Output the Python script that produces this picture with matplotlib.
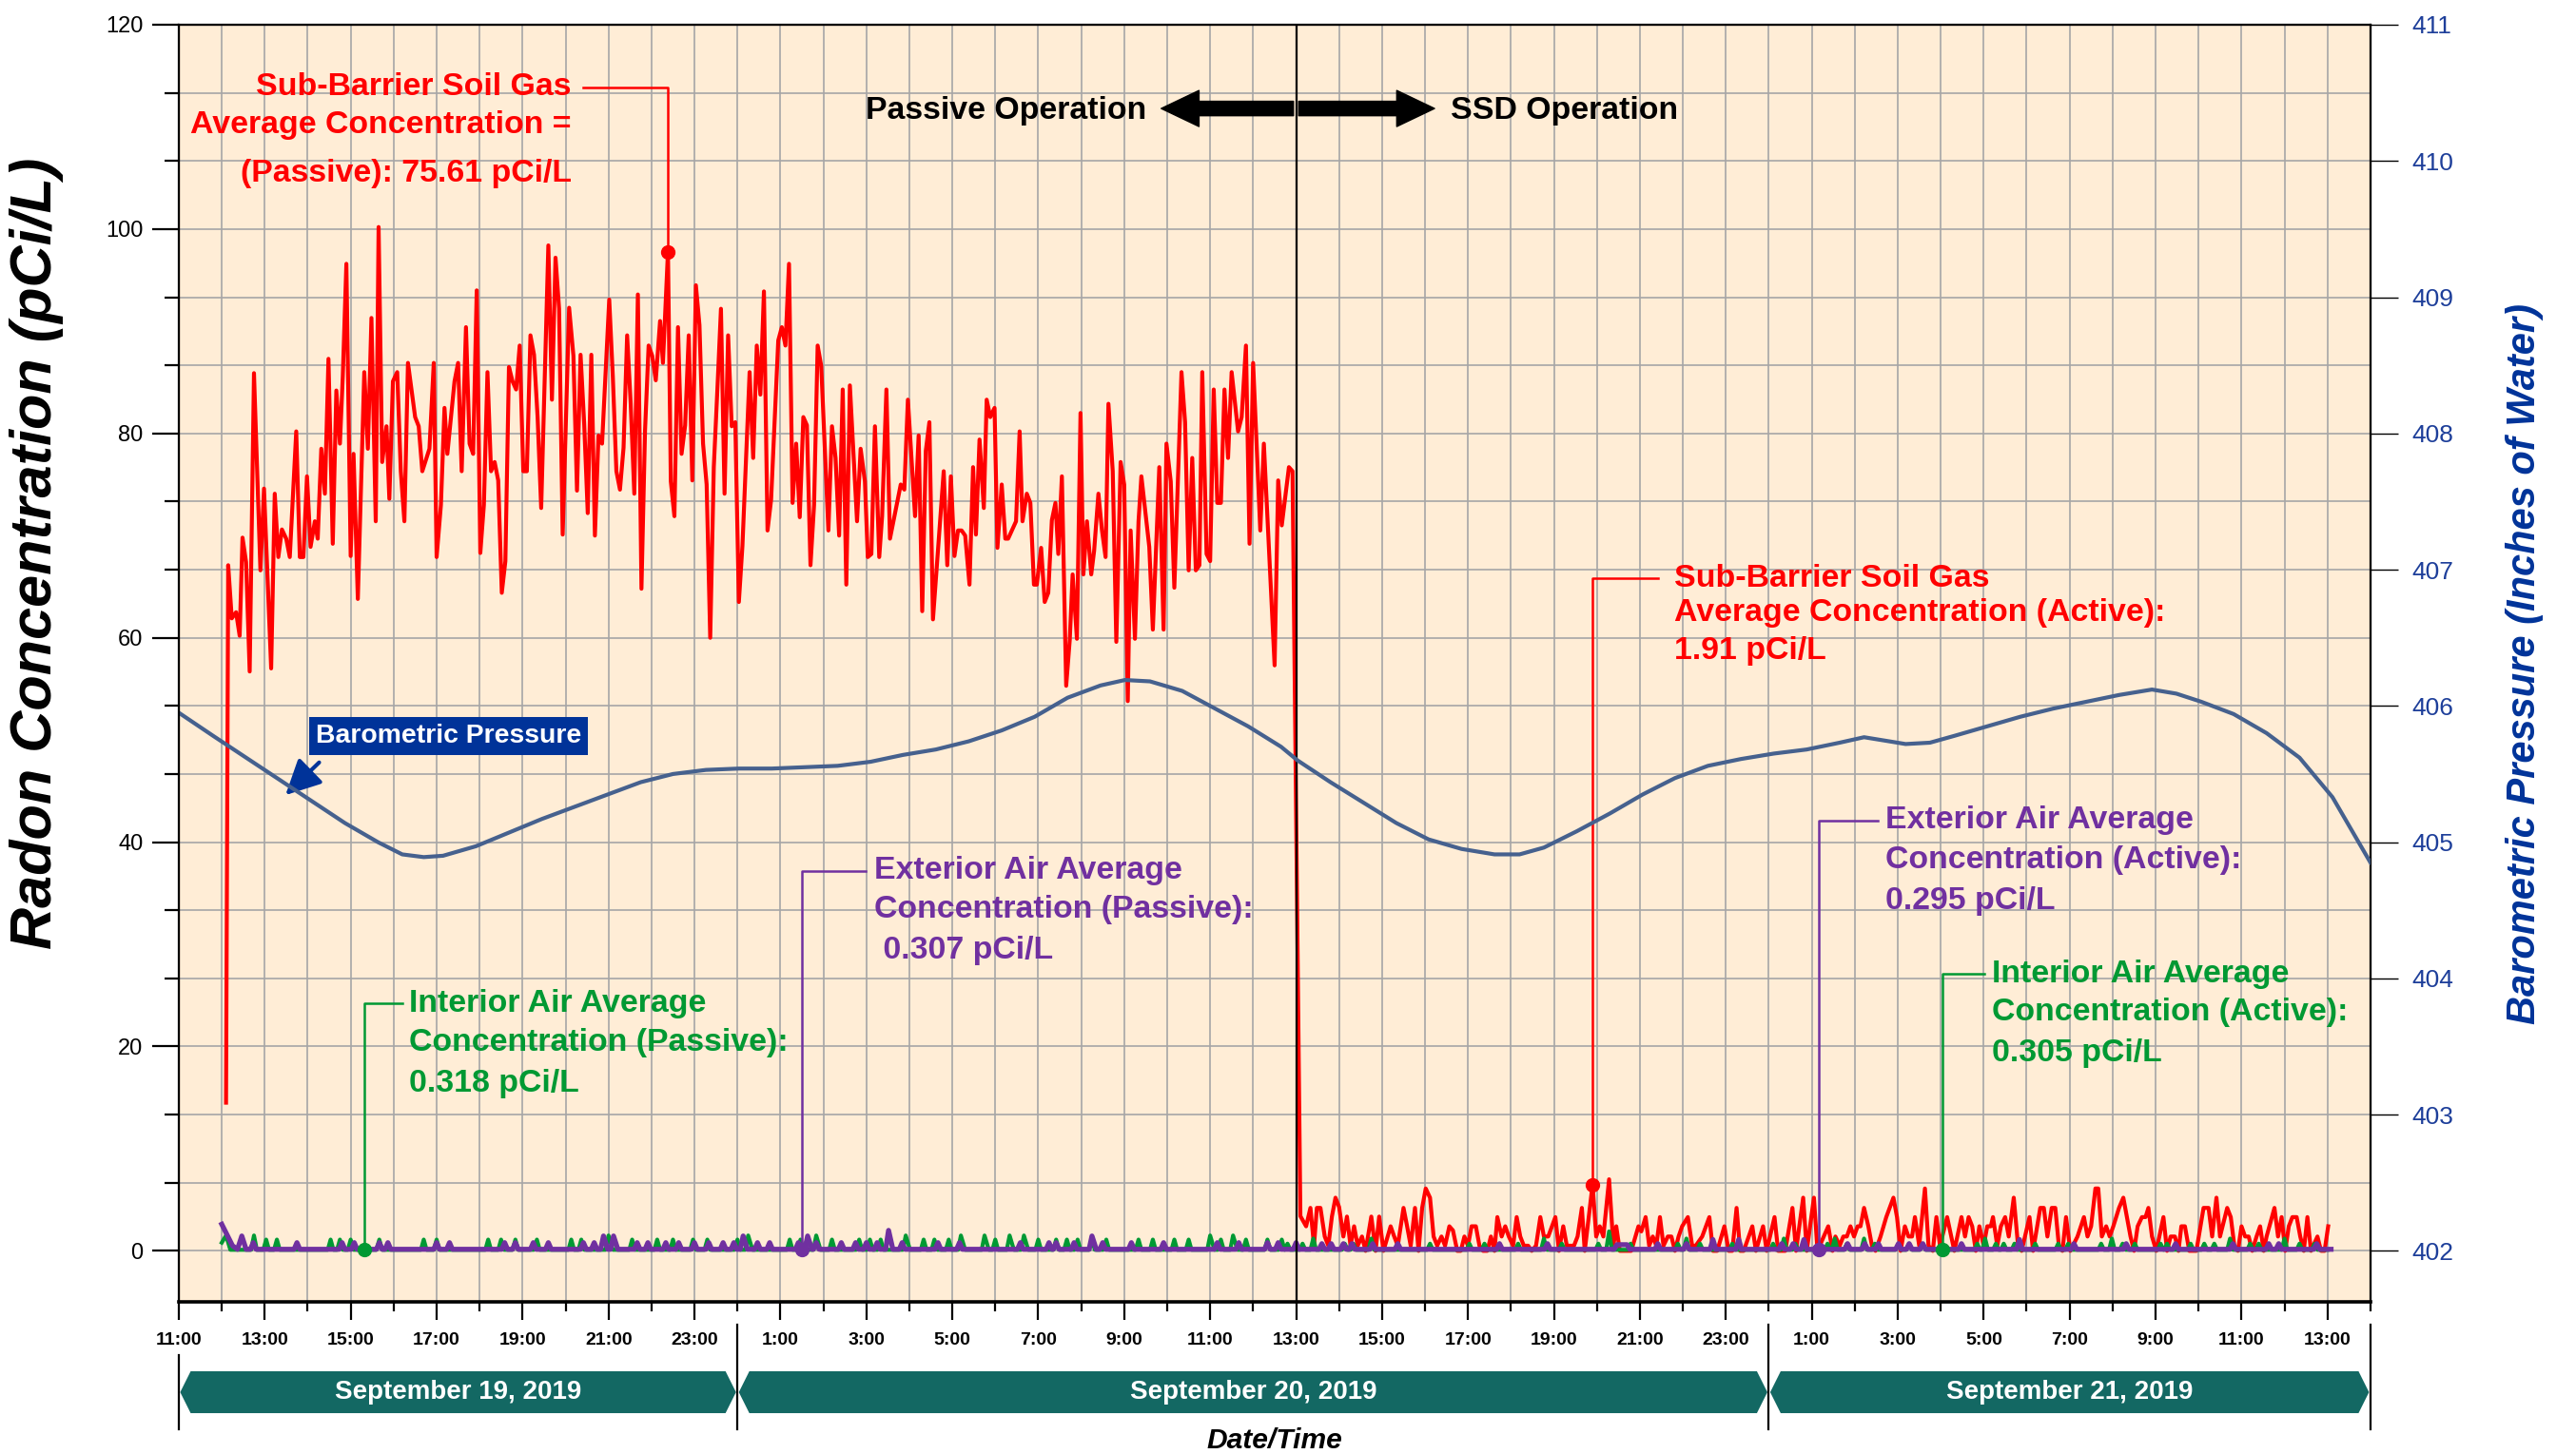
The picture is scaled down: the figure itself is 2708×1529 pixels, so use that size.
"""Radon / barometric pressure time series, Sept 19-21 2019."""
import numpy as np, matplotlib; matplotlib.use("Agg")
import matplotlib.pyplot as plt
import matplotlib.font_manager as fm
from matplotlib.patches import Polygon, FancyArrowPatch
from matplotlib.transforms import blended_transform_factory

_names = {f.name for f in fm.fontManager.ttflist}
NARROW = "Liberation Sans Narrow" if "Liberation Sans Narrow" in _names else "Liberation Sans"
K = 1.0 if NARROW == "Liberation Sans Narrow" else 0.8   # shrink if only the wide face exists
plt.rcParams.update({"font.family": ["Liberation Sans", "DejaVu Sans"]})

# ---- data: x = minutes since Sept 19 2019 11:00 ----
soil_passive_t = [66, 69, 74, 80, 85, 89, 94, 99, 105, 114, 119, 129, 134, 139, 144, 150, 155, 164, 169, 174, 179, 184,
    190, 194, 199, 204, 209, 215, 220, 225, 229, 234, 240, 244, 250, 259, 264, 269, 275, 279, 284, 290, 294, 299, 305,
    310, 315, 320, 330, 335, 340, 350, 356, 360, 366, 371, 375, 385, 390, 395, 401, 406, 411, 416, 421, 426, 431, 436,
    441, 446, 451, 456, 461, 466, 471, 476, 481, 486, 491, 496, 501, 506, 516, 521, 526, 531, 536,
    545, 551, 556, 561, 566, 571, 576, 581, 586, 591, 601, 606, 611, 616, 621, 626, 631, 636, 641, 646, 651, 656, 661,
    666, 672, 676, 683, 687, 692, 697, 702, 707, 712, 717, 722, 727, 732, 737, 742, 747, 752, 757, 762, 767, 772, 777,
    782, 787, 797, 802, 807, 812, 817, 822, 827, 837, 842, 847, 852, 857, 862, 867, 872, 877, 882, 887, 892, 897, 907,
    912, 917, 922, 927, 932, 937, 947, 952, 958, 962, 967, 972, 978, 982, 988, 993, 1008, 1013, 1018, 1023, 1028, 1033,
    1038, 1043, 1048, 1053,
    1068, 1073, 1078, 1083, 1088, 1093, 1098, 1104, 1109, 1113, 1118, 1124, 1128, 1133, 1139, 1143, 1149, 1154, 1158,
    1169, 1174, 1178, 1184, 1189, 1194, 1198, 1204, 1209, 1214, 1219, 1224, 1228, 1233, 1239, 1244, 1248, 1254, 1259,
    1263, 1268, 1274, 1278, 1284, 1289, 1294, 1298, 1304, 1309, 1315, 1320, 1325, 1329, 1335, 1340, 1344, 1355, 1360,
    1369, 1375, 1379, 1385, 1390, 1400, 1405, 1410, 1415, 1420, 1425, 1429, 1435, 1440, 1445, 1450, 1455, 1460, 1465,
    1470, 1479, 1484, 1490, 1495, 1500, 1510, 1515, 1530, 1535, 1540, 1550, 1555]
soil_passive_v = [14.5, 67.1, 61.9, 62.5, 60.2, 69.8, 67.4, 56.7, 85.9, 66.6, 74.6, 57.0, 74.1, 67.9, 70.6, 69.7, 67.9,
    80.2, 67.9, 67.9, 75.8, 68.9, 71.4, 69.7, 78.5, 74.1, 87.3, 69.2, 84.2, 79.0, 85.6, 96.6, 68.0, 78.0, 63.8, 86.0,
    78.5, 91.3, 71.4, 100.2, 77.2, 80.7, 73.6, 85.1, 86.0, 76.3, 71.4, 86.9, 81.6, 80.7, 76.3, 78.5, 86.9, 67.9, 73.0,
    82.5, 78.0, 85.1, 86.9, 76.3, 90.4, 79.0, 78.0, 94.0, 68.3, 73.0, 86.0, 76.3, 77.2, 75.4, 64.4, 67.5, 86.5, 85.1,
    84.3, 88.6, 76.3, 76.3, 89.6, 87.7, 81.6, 72.7, 98.4, 83.3, 97.2, 92.2, 70.1,
    92.3, 87.6, 74.4, 87.7, 81.0, 72.2, 87.7, 70.0, 79.8, 79.0, 93.1, 85.6, 76.3, 74.5, 78.6, 89.6, 82.9, 74.1, 93.6,
    64.8, 80.3, 88.6, 87.6, 85.2, 91.0, 86.9, 97.8, 75.3, 71.9, 90.4, 78.0, 80.8, 89.6, 75.4, 94.5, 90.6, 79.0, 75.0,
    60.0, 76.7, 84.3, 92.2, 74.1, 89.6, 80.7, 81.1, 63.5, 69.0, 86.0, 77.6, 88.6, 83.8, 93.9, 70.5, 73.5, 89.1, 90.4,
    88.6, 96.6, 73.2, 79.0, 71.8, 81.6, 80.8, 67.1, 73.0, 88.6, 86.6, 70.5, 80.7, 77.6, 70.0, 84.3, 65.2, 84.7, 71.4,
    78.5, 75.3, 67.9, 68.2, 80.7, 67.9, 71.9, 84.3, 69.7, 75.0, 74.5, 83.3, 77.6, 71.9, 79.8, 62.6, 78.3, 81.1, 61.8,
    76.3, 67.1, 75.8, 68.0, 70.5, 70.5, 70.0, 65.2, 76.7, 70.1, 79.4, 72.7, 83.3, 81.6, 82.5, 68.8, 75.0, 69.7, 69.7,
    71.4, 80.2, 71.4, 74.1, 73.2, 65.2, 65.2, 68.8, 63.5, 64.4, 71.5, 73.2, 68.2, 75.8, 55.3, 59.8, 66.2, 59.9, 82.0,
    66.2, 71.4, 66.2, 68.5, 74.1, 70.5, 67.9, 82.9, 76.3, 59.6, 77.2, 75.0, 53.8, 70.5, 59.9, 71.4, 75.8, 68.9, 60.8,
    76.7, 60.8, 79.0, 75.3, 64.9, 86.0, 81.1, 66.6, 77.6, 66.6, 67.1, 86.0, 68.2, 67.5, 84.3, 73.2, 73.2, 84.3, 77.6,
    86.0, 80.2, 81.6, 88.6, 69.2, 86.9, 70.5, 79.0, 57.3, 75.4, 71.0, 76.7, 76.3]

soil_active_t = [1566, 1574, 1580, 1585, 1589, 1594, 1600, 1605, 1610, 1615, 1620, 1626, 1631, 1636, 1641, 1646, 1652,
    1657, 1665, 1671, 1676, 1682, 1692, 1697, 1702, 1710, 1715, 1720, 1726, 1731, 1736, 1741, 1747, 1752, 1757, 1763,
    1768, 1774, 1779, 1785, 1790, 1795, 1800, 1805, 1811, 1816, 1821, 1827, 1832, 1837, 1841, 1847, 1852, 1857, 1863,
    1868, 1873, 1878, 1884, 1889, 1895, 1901, 1906, 1912, 1922, 1927, 1933, 1938, 1948, 1953, 1959, 1963, 1974, 1979,
    1984, 1989, 1997, 2003, 2007, 2012, 2017, 2028, 2038, 2042, 2048, 2053, 2058, 2063, 2068, 2073, 2079, 2084, 2089,
    2094, 2099, 2107, 2113, 2118, 2127, 2137, 2142, 2148, 2158, 2164, 2169, 2175, 2180, 2185, 2197, 2202, 2212, 2217,
    2228, 2233, 2243, 2253, 2258, 2268, 2273, 2283, 2288, 2303, 2309, 2313, 2319, 2324, 2329, 2334, 2339, 2344, 2348,
    2353, 2359, 2364, 2369, 2376, 2384, 2394, 2399, 2404, 2410, 2415, 2420, 2424, 2430, 2438, 2443, 2449, 2454, 2459,
    2469, 2479, 2489, 2494, 2499, 2504, 2509, 2514, 2520, 2525, 2530, 2533, 2539, 2544, 2550, 2555, 2562, 2568, 2573,
    2584, 2589, 2599, 2604, 2609, 2615, 2620, 2625, 2630, 2635, 2641, 2651, 2660, 2665, 2670, 2676, 2680, 2685, 2691,
    2696, 2701, 2709, 2715, 2720, 2725, 2730, 2735, 2741, 2746, 2750, 2755, 2761, 2771, 2776, 2781, 2787, 2792, 2796,
    2801, 2807, 2817, 2827, 2834, 2839, 2845, 2850, 2860, 2865, 2870, 2875, 2880, 2885, 2890, 2895, 2901, 2906, 2911,
    2915, 2926, 2931, 2936, 2941, 2946, 2951, 2957, 2962, 2967, 2972, 2977, 2986, 2991, 2996, 3001]
soil_active_v = [3.4, 2.4, 4.2, 0.5, 4.2, 4.2, 1.4, 0.5, 3.35, 5.2, 4.3, 1.4, 3.35, 0.5, 2.4, 0.5, 1.4, 0, 3.35, 0,
    3.35, 0, 2.4, 1.4, 0.5, 4.2, 2.4, 0.5, 4.2, 0, 4.2, 6.1, 5.2, 1.4, 0.5, 1.4, 0.5, 2.4, 2.0, 0, 0, 1.4, 0.5, 2.4,
    2.4, 0.5, 0, 0, 1.4, 0, 3.3, 1.4, 2.4, 1.4, 0.5, 3.3, 1.4, 0.5, 0.5, 0, 0.5, 3.3, 1.4, 1.4, 3.3, 0, 2.4, 0.5, 0.5,
    1.4, 4.2, 0, 6.5, 1.4, 2.4, 1.4, 7.0, 0.5, 2.4, 0, 0, 0, 2.4, 1.9, 3.3, 0.5, 1.4, 0.5, 3.3, 0.5, 1.4, 1.4, 0, 1.4,
    2.4, 3.3, 0.5, 0.5, 1.4, 3.3, 0, 0, 2.4, 0, 0, 4.2, 0, 0, 2.4, 0, 2.4, 0, 3.3, 0, 0, 4.2, 0, 5.2, 0, 5.2, 0, 2.4,
    0, 1.4, 0.5, 1.4, 1.4, 2.4, 1.4, 2.4, 2.4, 4.2, 2.4, 0.5, 0, 1.4, 3.3, 5.2, 3.3, 0, 2.4, 1.4, 1.4, 3.3, 0.5, 6.1,
    0.5, 0, 3.3, 0.5, 3.3, 0, 3.3, 1.4, 3.3, 2.4, 0, 2.4, 0.5, 2.4, 2.4, 3.3, 0.5, 2.4, 3.3, 1.4, 5.2, 0.5, 0, 3.3, 0,
    4.2, 4.2, 1.4, 4.2, 4.2, 0.5, 0, 3.3, 0, 1.4, 3.3, 1.4, 2.4, 6.1, 6.1, 1.4, 2.4, 1.4, 2.4, 4.2, 5.2, 3.3, 1.4, 0,
    2.4, 3.3, 3.3, 4.2, 1.4, 0, 3.3, 0, 1.4, 1.4, 0, 2.4, 2.4, 0, 0, 4.2, 4.2, 1.4, 5.2, 1.4, 4.2, 3.3, 0.5, 0, 2.4,
    1.4, 1.4, 0, 1.4, 2.4, 0, 1.4, 4.2, 1.4, 3.3, 0, 2.4, 3.3, 3.3, 1.4, 0, 3.3, 0, 1.4, 0, 0, 2.4]

interior = [(60, .8), (66, 1.5), (72, .1), (101, .1), (105, 1.5), (109, .1), (118, .1), (122, 1.1), (126, .1),
    (133, .1), (137, 1.1), (141, .1), (208, .1), (212, 1.1), (216, .1), (221, .1), (225, 1.1), (229, .1), (236, .1),
    (240, 1.1), (244, .1), (276, .1), (280, 1.1), (284, .1), (338, .1), (342, 1.1), (346, .1), (356, .1), (360, 1.1),
    (364, .1), (428, .1), (432, 1.1), (436, .1), (446, .1), (450, 1.1), (454, .1), (466, .1), (470, 1.1), (474, .1),
    (496, .1), (500, 1.1), (504, .1), (544, .1), (548, 1.1), (552, .1), (558, .1), (562, 1.1), (566, .1), (596, .1),
    (600, 1.5), (606, .1), (629, .1), (633, 1.1), (637, .1), (664, .1), (668, 1.1), (672, .1), (686, .1), (690, 1.1),
    (694, .1), (714, .1), (718, 1.1), (722, .1), (734, .1), (738, 1.1), (742, .1), (776, .1), (780, 1.1), (784, .1),
    (791, .1), (795, 1.5), (801, .1), (849, .1), (853, 1.1), (857, .1), (864, .1), (868, 1.1), (872, .1), (886, .1),
    (890, 1.5), (896, .1), (908, .1), (912, 1.1), (916, .1), (946, .1), (950, 1.1), (954, .1), (961, .1), (965, 1.1),
    (969, .1), (976, .1), (980, 1.1), (984, .1), (1011, .1), (1015, 1.5), (1021, .1), (1036, .1), (1040, 1.1),
    (1044, .1), (1051, .1), (1055, 1.1), (1059, .1), (1071, .1), (1075, 1.1), (1079, .1), (1088, .1), (1092, 1.5),
    (1098, .1), (1121, .1), (1125, 1.5), (1131, .1), (1136, .1), (1140, 1.1), (1144, .1), (1156, .1), (1160, 1.5),
    (1166, .1), (1176, .1), (1180, 1.5), (1186, .1), (1196, .1), (1200, 1.1), (1204, .1), (1221, .1), (1225, 1.1),
    (1229, .1), (1236, .1), (1240, 1.1), (1244, .1), (1251, .1), (1255, 1.1), (1259, .1), (1271, .1), (1275, 1.1),
    (1279, .1), (1291, .1), (1295, 1.1), (1299, .1), (1336, .1), (1340, 1.1), (1344, .1), (1356, .1), (1360, 1.1),
    (1364, .1), (1386, .1), (1390, 1.1), (1394, .1), (1406, .1), (1410, 1.1), (1414, .1), (1436, .1), (1440, 1.5),
    (1446, .1), (1451, .1), (1455, 1.1), (1459, .1), (1468, .1), (1472, 1.5), (1478, .1), (1486, .1), (1490, 1.1),
    (1494, .1), (1516, .1), (1520, 1.1), (1524, .1), (1536, .1), (1540, 1.1), (1544, .1), (1548, .7), (1552, .1),
    (1565, .1), (1569, .7), (1573, .1), (1580, .1), (1584, 1.2), (1588, .1), (1624, .1), (1628, .7), (1632, .1),
    (1636, .1), (1640, .7), (1644, .1), (1661, .1), (1665, 1.2), (1669, .1), (1743, .1), (1747, .7), (1751, .1),
    (1798, .1), (1802, .7), (1806, .1), (1819, .1), (1823, .7), (1827, .1), (1866, .1), (1870, .7), (1874, .1),
    (1902, .1), (1906, 1.2), (1910, .1), (1927, .1), (1931, .7), (1935, .1), (1978, .1), (1982, .7), (1986, .1),
    (1993, .1), (1997, 1.9), (2001, .1), (2023, .1), (2027, .7), (2031, .1), (2089, .1), (2093, .7), (2097, .1),
    (2101, .1), (2105, 1.2), (2109, .1), (2120, .1), (2124, .7), (2128, .1), (2165, .1), (2169, .7), (2173, .1),
    (2222, .1), (2226, .7), (2230, .1), (2237, .1), (2241, 1.2), (2245, .1), (2253, .1), (2257, .7), (2261, .1),
    (2298, .1), (2302, .7), (2306, .1), (2308, .1), (2312, 1.2), (2316, .1), (2325, .1), (2329, .7), (2333, .1),
    (2349, .1), (2353, 1.2), (2357, .1), (2364, .1), (2368, .7), (2372, .1), (2397, .1), (2401, .7), (2405, .1),
    (2412, .1), (2416, .7), (2420, .1), (2431, .1), (2435, .7), (2439, .1), (2507, .1), (2511, .7), (2515, .1),
    (2518, .1), (2522, 1.2), (2526, .1), (2533, .1), (2537, .7), (2541, .1), (2544, .1), (2548, .7), (2552, .1),
    (2559, .1), (2563, .7), (2567, .1), (2588, .1), (2592, .7), (2596, .1), (2620, .1), (2624, .7), (2628, .1),
    (2634, .1), (2638, .7), (2642, .1), (2680, .1), (2684, .7), (2688, .1), (2695, .1), (2699, 1.2), (2703, .1),
    (2710, .1), (2714, .7), (2718, .1), (2727, .1), (2731, .7), (2735, .1), (2763, .1), (2767, .7), (2771, .1),
    (2772, .1), (2776, .7), (2780, .1), (2805, .1), (2809, .7), (2813, .1), (2824, .1), (2828, .7), (2832, .1),
    (2838, .1), (2842, .7), (2846, .1), (2860, .1), (2864, 1.2), (2868, .1), (2888, .1), (2892, .7), (2896, .1),
    (2900, .1), (2904, .7), (2908, .1), (2936, .1), (2940, 1.2), (2944, .1), (2957, .1), (2961, .7), (2965, .1),
    (2978, .1), (2982, .7), (2986, .1), (3000, .1)]

exterior = [(60, 2.6), (75, .5), (82, .15), (88, 1.45), (94, .15), (100, .15), (104, .8), (108, .15), (161, .15),
    (165, .8), (169, .15), (224, .15), (228, .8), (232, .15), (241, .15), (245, .8), (249, .15), (276, .15), (280, .8),
    (284, .15), (288, .15), (292, .8), (296, .15), (356, .15), (360, .8), (364, .15), (374, .15), (378, .8), (382, .15),
    (451, .15), (455, .8), (459, .15), (466, .15), (470, .8), (474, .15), (491, .15), (495, .8), (499, .15), (512, .15),
    (516, .8), (520, .15), (561, .15), (565, .8), (569, .15), (576, .15), (580, .8), (584, .15), (589, .15), (593, 1.45),
    (599, .15), (603, .15), (607, 1.45), (613, .15), (636, .15), (640, .8), (644, .15), (651, .15), (655, .8), (659, .15),
    (676, .15), (680, .8), (684, .15), (694, .15), (698, .8), (702, .15), (716, .15), (720, .8), (724, .15), (736, .15),
    (740, .8), (744, .15), (756, .15), (760, .8), (764, .15), (771, .15), (775, .8), (779, .15), (784, .15), (788, 1.45),
    (794, .15), (804, .15), (808, .8), (812, .15), (821, .15), (825, .8), (829, .15), (861, .15), (865, .8), (869, .15),
    (874, .15), (878, 1.45), (884, .15), (886, .15), (890, .8), (894, .15), (921, .15), (925, .8), (929, .15),
    (941, .15), (945, .8), (949, .15), (956, .15), (960, .8), (964, .15), (971, .15), (975, .8), (979, .15), (987, .15),
    (991, 2.0), (997, .15), (1006, .15), (1010, .8), (1014, .15), (1056, .15), (1060, .8), (1064, .15), (1086, .15),
    (1090, .8), (1094, .15), (1171, .15), (1175, .8), (1179, .15), (1211, .15), (1215, .8), (1219, .15), (1221, .15),
    (1225, .8), (1229, .15), (1246, .15), (1250, .8), (1254, .15), (1271, .15), (1275, 1.45), (1281, .15), (1286, .15),
    (1290, .8), (1294, .15), (1326, .15), (1330, .8), (1334, .15), (1371, .15), (1375, .8), (1379, .15), (1446, .15),
    (1450, .8), (1454, .15), (1476, .15), (1480, .8), (1484, .15), (1516, .15), (1520, .8), (1524, .15), (1531, .15),
    (1535, .8), (1539, .15), (1556, .15), (1560, .8), (1564, .15), (1592, .15), (1596, .7), (1600, .15), (1605, .15),
    (1609, .7), (1613, .15), (1622, .15), (1626, .7), (1630, .15), (1634, .15), (1638, .7), (1642, .15), (1663, .15),
    (1667, .7), (1671, .15), (1698, .15), (1702, .7), (1706, .15), (1840, .15), (1844, .7), (1848, .15), (1907, .15),
    (1911, .7), (1915, .15), (2004, .15), (2008, .6), (2022, .6), (2026, .15), (2061, .15), (2065, .7), (2069, .15),
    (2101, .15), (2105, .7), (2109, .15), (2138, .15), (2142, 1.1), (2146, .15), (2174, .15), (2178, 1.1), (2182, .15),
    (2234, .15), (2238, .7), (2242, .15), (2250, .15), (2254, .7), (2258, .15), (2265, .15), (2269, 1.1), (2273, .15),
    (2326, .15), (2330, .7), (2334, .15), (2350, .15), (2354, .7), (2358, .15), (2369, .15), (2373, .7), (2377, .15),
    (2397, .15), (2401, .7), (2405, .15), (2412, .15), (2416, .7), (2420, .15), (2431, .15), (2435, .7), (2439, .15),
    (2485, .15), (2489, .7), (2493, .15), (2566, .15), (2570, 1.1), (2574, .15), (2642, .15), (2646, .7), (2650, .15),
    (2715, .15), (2719, .7), (2723, .15), (2784, .15), (2788, .7), (2792, .15), (2864, .15), (2868, .7), (2872, .15),
    (2914, .15), (2918, .7), (2922, .15), (2928, .15), (2932, .7), (2936, .15), (2981, .15), (2985, .7), (2989, .15),
    (3005, .15)]

baro_t = [0, 48, 94, 140, 186, 232, 278, 312, 342, 369, 415, 461, 507, 553, 599, 645, 690, 736, 782, 828, 874, 920,
          966, 1011, 1057, 1103, 1149, 1195, 1241, 1287, 1321, 1356, 1401, 1447, 1493, 1539, 1562, 1608, 1654, 1700,
          1745, 1791, 1837, 1872, 1906, 1952, 1998, 2044, 2089, 2135, 2181, 2227, 2273, 2319, 2353, 2388, 2411, 2445,
          2479, 2525, 2571, 2617, 2663, 2709, 2755, 2789, 2824, 2869, 2915, 2961, 3007, 3060]
baro_p = [405.95, 405.78, 405.62, 405.46, 405.30, 405.14, 405.00, 404.91, 404.89, 404.90, 404.97, 405.07, 405.17,
          405.26, 405.35, 405.44, 405.50, 405.53, 405.54, 405.54, 405.55, 405.56, 405.59, 405.64, 405.68, 405.74,
          405.82, 405.92, 406.06, 406.15, 406.19, 406.18, 406.11, 405.98, 405.85, 405.70, 405.60, 405.44, 405.29,
          405.14, 405.02, 404.95, 404.91, 404.91, 404.96, 405.08, 405.21, 405.35, 405.47, 405.56, 405.61, 405.65,
          405.68, 405.73, 405.77, 405.74, 405.72, 405.73, 405.78, 405.85, 405.92, 405.98, 406.03, 406.08, 406.12,
          406.09, 406.03, 405.94, 405.80, 405.62, 405.33, 404.85]

days = ["September 19, 2019", "September 20, 2019", "September 21, 2019"]
day_edges = [0, 780, 2220, 3060]

RED, GREEN, PURPLE, BARO = "#FF0000", "#009933", "#7030A0", "#46618E"
DARKBLUE, TEAL, BG = "#003399", "#136863", "#FFEDD6"

fig = plt.figure(figsize=(27.08, 15.29), dpi=100)
ax = fig.add_axes([0.0694, 0.1046, 0.8508, 0.8784])
ax.set_facecolor(BG)
ax.set_xlim(0, 3060); ax.set_ylim(-5, 120)

ax.plot(soil_passive_t + soil_active_t, soil_passive_v + soil_active_v, color=RED, lw=3.0, zorder=3)
ax.plot([p[0] for p in interior], [p[1] for p in interior], color=GREEN, lw=3.0, zorder=4)
ax.plot([p[0] for p in exterior], [p[1] for p in exterior], color=PURPLE, lw=3.8, zorder=5)
ax.axvline(1560, color="black", lw=1.6, zorder=6)

# axes ticks / grid
ax.set_xticks(range(0, 3061, 120))
ax.set_xticks(range(0, 3061, 60), minor=True)
ax.set_xticklabels([f"{(11 + t // 60) % 24}:00" for t in range(0, 3061, 120)],
                   fontfamily=NARROW, fontweight="bold", fontsize=17.5 * K)
ax.set_yticks(range(0, 121, 20))
ax.set_yticks(np.arange(0, 121, 20 / 3), minor=True)
ax.tick_params(axis="y", which="major", length=20, width=1.6, pad=7, labelsize=17)
ax.tick_params(axis="y", which="minor", length=11, width=1.6)
ax.tick_params(axis="x", which="major", length=14, width=1.6, pad=9)
ax.tick_params(axis="x", which="minor", length=7, width=1.6)
ax.grid(True, which="both", color="#A6A6A6", lw=1.2)
ax.set_axisbelow(True)
for s in ["left", "right", "top"]:
    ax.spines[s].set_linewidth(1.6)
ax.spines["bottom"].set_linewidth(2.6)

ax.set_ylabel("Radon Concentration (pCi/L)", fontsize=44, fontweight="bold", style="italic")
ax.yaxis.set_label_coords(-0.0525, 0.586)

ax2 = ax.twinx()
ax2.set_ylim(401.625, 411)
ax2.set_yticks(range(402, 412))
ax2.tick_params(axis="y", length=21, width=1.0, pad=10, labelsize=19, labelcolor="#1E3F9A")
ax2.plot(baro_t, baro_p, color=BARO, lw=3.0, zorder=2)
ax2.set_ylabel("Barometric Pressure (Inches of Water)", fontsize=30, fontweight="bold", style="italic",
               color=DARKBLUE)
ax2.yaxis.set_label_coords(1.0616, 0.5)

# ---- annotations ----
AF = dict(fontfamily=NARROW, fontweight="bold", fontsize=30.5 * K, va="center", zorder=7)

def callout(lines, x_text, ys, x_lead, x_pt, y_pt, color, ha="left"):
    for s, y in zip(lines, ys):
        ax.text(x_text, y, s, color=color, ha=ha, **AF)
    ax.plot([x_lead, x_pt, x_pt], [ys[0], ys[0], y_pt], color=color, lw=1.8, zorder=7)
    ax.plot(x_pt, y_pt, "o", color=color, ms=10, zorder=8)

callout(["Sub-Barrier Soil Gas", "Average Concentration =", "(Passive): 75.61 pCi/L"], 548,
        [113.9, 110.2, 105.4], 564, 683, 97.8, RED, ha="right")
callout(["Sub-Barrier Soil Gas", "Average Concentration (Active):", "1.91 pCi/L"], 2088,
        [65.8, 62.4, 58.7], 2066, 1974, 6.5, RED)
callout(["Exterior Air Average", "Concentration (Passive):", " 0.307 pCi/L"], 971,
        [37.2, 33.4, 29.4], 959, 870, 0.15, PURPLE)
callout(["Interior Air Average", "Concentration (Passive):", "0.318 pCi/L"], 321,
        [24.2, 20.4, 16.4], 312, 259, 0.1, GREEN)
callout(["Exterior Air Average", "Concentration (Active):", "0.295 pCi/L"], 2383,
        [42.1, 38.2, 34.2], 2372, 2290, 0.15, PURPLE)
callout(["Interior Air Average", "Concentration (Active):", "0.305 pCi/L"], 2532,
        [27.1, 23.3, 19.3], 2521, 2463, 0.1, GREEN)

ax.text(1351, 111.6, "Passive Operation", color="black", ha="right", **AF)
ax.text(1776, 111.6, "SSD Operation", color="black", ha="left", **AF)
for x_end in (1368, 1757):
    ax.add_patch(FancyArrowPatch((1560, 111.8), (x_end, 111.8), mutation_scale=26, color="black", zorder=7,
                                 arrowstyle="simple,head_length=1.1,head_width=1.05,tail_width=0.42"))

ax.text(377, 50.4, "Barometric Pressure", color="white", ha="center", va="center", fontfamily=NARROW,
        fontweight="bold", fontsize=25.5 * K, zorder=8,
        bbox=dict(boxstyle="square,pad=0.25", fc=DARKBLUE, ec="none"))
ax.annotate("", xy=(149, 44.6), xytext=(196, 47.8), zorder=8,
            arrowprops=dict(arrowstyle="-|>,head_length=0.8,head_width=0.4", color=DARKBLUE, lw=3,
                            mutation_scale=28, shrinkA=0, shrinkB=0))

# ---- date banners under the axis ----
tb = blended_transform_factory(ax.transData, fig.transFigure)
top, bot = 0.0569, 0.0281
mid, ind, g = (top + bot) / 2, 14.6, 2
for name, a, b in zip(days, day_edges[:-1], day_edges[1:]):
    pts = [(a + g, mid), (a + g + ind, top), (b - g - ind, top), (b - g, mid), (b - g - ind, bot), (a + g + ind, bot)]
    ax.add_patch(Polygon(pts, closed=True, fc=TEAL, ec="none", transform=tb, clip_on=False))
    ax.text((a + b) / 2, mid, name, transform=tb, color="white", ha="center", va="center",
            fontfamily=NARROW, fontweight="bold", fontsize=25 * K)
for i, x in enumerate(day_edges):
    ax.plot([x, x], [0.068 if i == 0 else 0.089, 0.017], color="black", lw=1.6, transform=tb, clip_on=False)

fig.text(0.4948, 0.0092, "Date/Time", ha="center", va="center", fontsize=27 * K, fontweight="bold",
         style="italic", fontfamily=NARROW)

fig.savefig("out.png", dpi=100)
